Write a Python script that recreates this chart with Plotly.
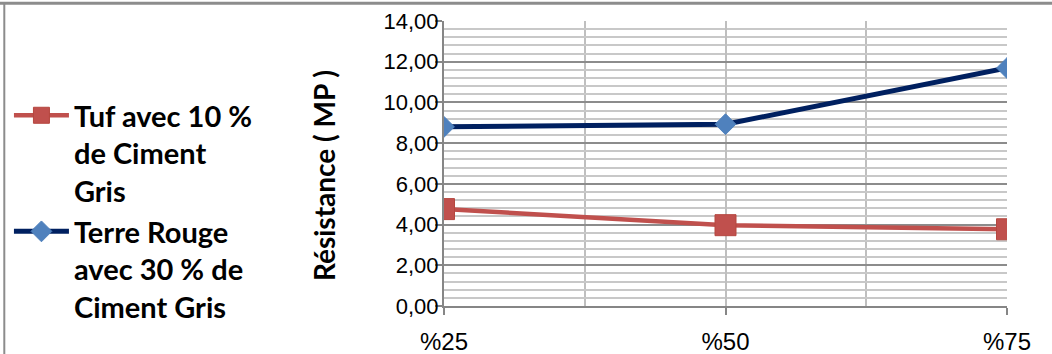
import plotly.graph_objects as go

# Mix proportions on the category axis
categories = ["%25", "%50", "%75"]

# Compressive strength (MP) for each mix
tuf_values = [4.76, 3.97, 3.77]
terre_values = [8.80, 8.93, 11.69]

tuf_name = "Tuf avec 10 %<br>de Ciment<br>Gris"
terre_name = "Terre Rouge<br>avec 30 % de<br>Ciment Gris"

y_ticks = [0, 2, 4, 6, 8, 10, 12, 14]

x_pos = list(range(len(categories)))

fig = go.Figure()

fig.add_trace(go.Scatter(
    x=x_pos, y=tuf_values, name=tuf_name, mode="lines+markers",
    line=dict(color="#C0504D", width=4.5),
    marker=dict(symbol="square", size=21, color="#C0504D",
                line=dict(color="#B5473F", width=1)),
))
fig.add_trace(go.Scatter(
    x=x_pos, y=terre_values, name=terre_name, mode="lines+markers",
    line=dict(color="#002060", width=5),
    marker=dict(symbol="diamond", size=16, color="#4F81BD",
                line=dict(color="#4F81BD", width=1)),
))

# Chart frame (top and left edges of the chart border)
fig.add_shape(type="line", xref="paper", yref="paper",
              x0=-0.79, x1=1.1, y0=1.062, y1=1.062,
              line=dict(color="#8C8C8C", width=3))
fig.add_shape(type="line", xref="paper", yref="paper",
              x0=-0.781, x1=-0.781, y0=1.062, y1=-0.2,
              line=dict(color="#8C8C8C", width=2))

fig.add_annotation(
    text="Résistance ( MP )", textangle=-90, showarrow=False,
    xref="paper", yref="paper", x=-0.212, y=0.458,
    xanchor="center", yanchor="middle",
    font=dict(family="Lato", size=28, color="#000000", weight="bold"),
)

fig.update_layout(
    width=1052, height=354,
    margin=dict(l=444, r=45, t=21, b=48, autoexpand=False),
    paper_bgcolor="white", plot_bgcolor="white",
    separators=", ",
    showlegend=True,
    legend=dict(
        xref="container", yref="container",
        x=0.0085, y=0.746, xanchor="left", yanchor="top",
        font=dict(family="Lato", size=29, color="#000000", weight="bold"),
        itemwidth=55, valign="top", tracegroupgap=0,
        maxheight=340,
        bgcolor="rgba(0,0,0,0)",
    ),
    xaxis=dict(
        range=[0, 2], tickvals=x_pos, ticktext=categories,
        showgrid=True, gridcolor="#BFBFBF", gridwidth=2,
        minor=dict(dtick=0.5, showgrid=True, gridcolor="#BFBFBF", gridwidth=2),
        showline=True, linecolor="#868686", linewidth=2,
        ticks="outside", ticklen=7, tickcolor="#868686", tickwidth=2,
        ticklabelstandoff=6,
        tickfont=dict(family="Liberation Sans", size=24, color="#000000"),
        zeroline=False,
    ),
    yaxis=dict(
        range=[0, 14], tickvals=y_ticks, tickformat=".2f",
        showgrid=True, gridcolor="#8C8C8C", gridwidth=2,
        minor=dict(dtick=0.4, showgrid=True, gridcolor="#C8C8C8", gridwidth=2),
        showline=True, linecolor="#868686", linewidth=2,
        ticks="outside", ticklen=7, tickcolor="#868686", tickwidth=2,
        ticklabelstandoff=-8,
        tickfont=dict(family="Liberation Sans", size=22, color="#000000"),
        zeroline=False,
    ),
)

fig.write_html("out.html")
